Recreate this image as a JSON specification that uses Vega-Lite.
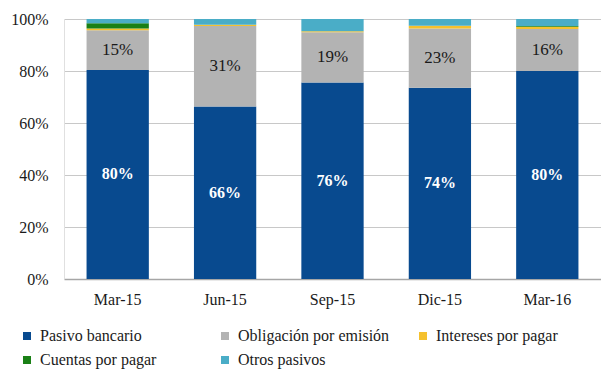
{
  "$schema": "https://vega.github.io/schema/vega-lite/v6.json",
  "autosize": {"type": "none"},
  "width": 537,
  "height": 260,
  "padding": {"left": 64, "top": 19, "right": 0, "bottom": 90},
  "background": "white",
  "config": {
    "font": "Liberation Serif",
    "view": {"stroke": null},
    "legend": {"labelFont": "Liberation Serif"},
    "axis": {"labelFont": "Liberation Serif"},
    "text": {"font": "Liberation Serif"}
  },
  "data": {
    "values": [
      {"periodo": "Mar-15", "serie": "Pasivo bancario", "orden": 1, "valor": 0.804},
      {"periodo": "Mar-15", "serie": "Obligación por emisión", "orden": 2, "valor": 0.153},
      {"periodo": "Mar-15", "serie": "Intereses por pagar", "orden": 3, "valor": 0.006},
      {"periodo": "Mar-15", "serie": "Cuentas por pagar", "orden": 4, "valor": 0.021},
      {"periodo": "Mar-15", "serie": "Otros pasivos", "orden": 5, "valor": 0.016},
      {"periodo": "Jun-15", "serie": "Pasivo bancario", "orden": 1, "valor": 0.663},
      {"periodo": "Jun-15", "serie": "Obligación por emisión", "orden": 2, "valor": 0.310},
      {"periodo": "Jun-15", "serie": "Intereses por pagar", "orden": 3, "valor": 0.005},
      {"periodo": "Jun-15", "serie": "Cuentas por pagar", "orden": 4, "valor": 0.0},
      {"periodo": "Jun-15", "serie": "Otros pasivos", "orden": 5, "valor": 0.022},
      {"periodo": "Sep-15", "serie": "Pasivo bancario", "orden": 1, "valor": 0.756},
      {"periodo": "Sep-15", "serie": "Obligación por emisión", "orden": 2, "valor": 0.193},
      {"periodo": "Sep-15", "serie": "Intereses por pagar", "orden": 3, "valor": 0.004},
      {"periodo": "Sep-15", "serie": "Cuentas por pagar", "orden": 4, "valor": 0.0},
      {"periodo": "Sep-15", "serie": "Otros pasivos", "orden": 5, "valor": 0.047},
      {"periodo": "Dic-15", "serie": "Pasivo bancario", "orden": 1, "valor": 0.736},
      {"periodo": "Dic-15", "serie": "Obligación por emisión", "orden": 2, "valor": 0.227},
      {"periodo": "Dic-15", "serie": "Intereses por pagar", "orden": 3, "valor": 0.011},
      {"periodo": "Dic-15", "serie": "Cuentas por pagar", "orden": 4, "valor": 0.0},
      {"periodo": "Dic-15", "serie": "Otros pasivos", "orden": 5, "valor": 0.026},
      {"periodo": "Mar-16", "serie": "Pasivo bancario", "orden": 1, "valor": 0.800},
      {"periodo": "Mar-16", "serie": "Obligación por emisión", "orden": 2, "valor": 0.162},
      {"periodo": "Mar-16", "serie": "Intereses por pagar", "orden": 3, "valor": 0.008},
      {"periodo": "Mar-16", "serie": "Cuentas por pagar", "orden": 4, "valor": 0.003},
      {"periodo": "Mar-16", "serie": "Otros pasivos", "orden": 5, "valor": 0.027}
    ]
  },
  "transform": [
    {"stack": "valor", "groupby": ["periodo"], "sort": [{"field": "orden", "order": "ascending"}], "as": ["y0", "y1"]},
    {"calculate": "(datum.y0 + datum.y1) / 2", "as": "ymid"}
  ],
  "encoding": {
    "x": {
      "field": "periodo",
      "type": "nominal",
      "sort": ["Mar-15", "Jun-15", "Sep-15", "Dic-15", "Mar-16"],
      "scale": {"paddingInner": 0.42, "paddingOuter": 0.21},
      "axis": {
        "title": null,
        "labelAngle": 0,
        "labelFontSize": 16,
        "labelColor": "#1a1a1a",
        "labelPadding": 12,
        "ticks": false,
        "domainColor": "#a6a6a6",
        "domainWidth": 1.5,
        "grid": false
      }
    }
  },
  "layer": [
    {
      "mark": {"type": "bar"},
      "encoding": {
        "y": {
          "field": "y0",
          "type": "quantitative",
          "scale": {"domain": [0, 1], "nice": false},
          "axis": {
            "title": null,
            "format": ".0%",
            "values": [0, 0.2, 0.4, 0.6, 0.8, 1],
            "labelFontSize": 16,
            "labelColor": "#1a1a1a",
            "labelPadding": 16,
            "ticks": false,
            "domain": true,
            "domainColor": "#e0e0e0",
            "gridColor": "#c8c8c8",
            "gridWidth": 1.2
          }
        },
        "y2": {"field": "y1"},
        "color": {
          "field": "serie",
          "type": "nominal",
          "sort": ["Pasivo bancario", "Obligación por emisión", "Intereses por pagar", "Cuentas por pagar", "Otros pasivos"],
          "scale": {
            "domain": ["Pasivo bancario", "Obligación por emisión", "Intereses por pagar", "Cuentas por pagar", "Otros pasivos"],
            "range": ["#084a8f", "#b3b3b3", "#f5c12e", "#1a8016", "#4aadc7"]
          },
          "legend": {
            "title": null,
            "orient": "none",
            "legendX": -45,
            "legendY": 309,
            "direction": "horizontal",
            "columns": 3,
            "gridAlign": "all",
            "columnPadding": 25,
            "rowPadding": 8,
            "symbolType": "square",
            "symbolSize": 64,
            "symbolStrokeWidth": 0,
            "symbolOpacity": 1,
            "labelFont": "Liberation Serif",
            "labelFontSize": 16,
            "labelColor": "#1a1a1a",
            "labelOffset": 5,
            "labelLimit": 300
          }
        }
      }
    },
    {
      "transform": [{"filter": "datum.serie === 'Pasivo bancario'"}],
      "mark": {"type": "text", "color": "white", "fontWeight": "bold", "fontSize": 16, "baseline": "middle"},
      "encoding": {
        "y": {"field": "ymid", "type": "quantitative"},
        "text": {"field": "valor", "type": "quantitative", "format": ".0%"}
      }
    },
    {
      "transform": [{"filter": "datum.serie === 'Obligación por emisión'"}],
      "mark": {"type": "text", "color": "#1a1a1a", "fontSize": 17, "baseline": "middle"},
      "encoding": {
        "y": {"field": "ymid", "type": "quantitative"},
        "text": {"field": "valor", "type": "quantitative", "format": ".0%"}
      }
    }
  ]
}
